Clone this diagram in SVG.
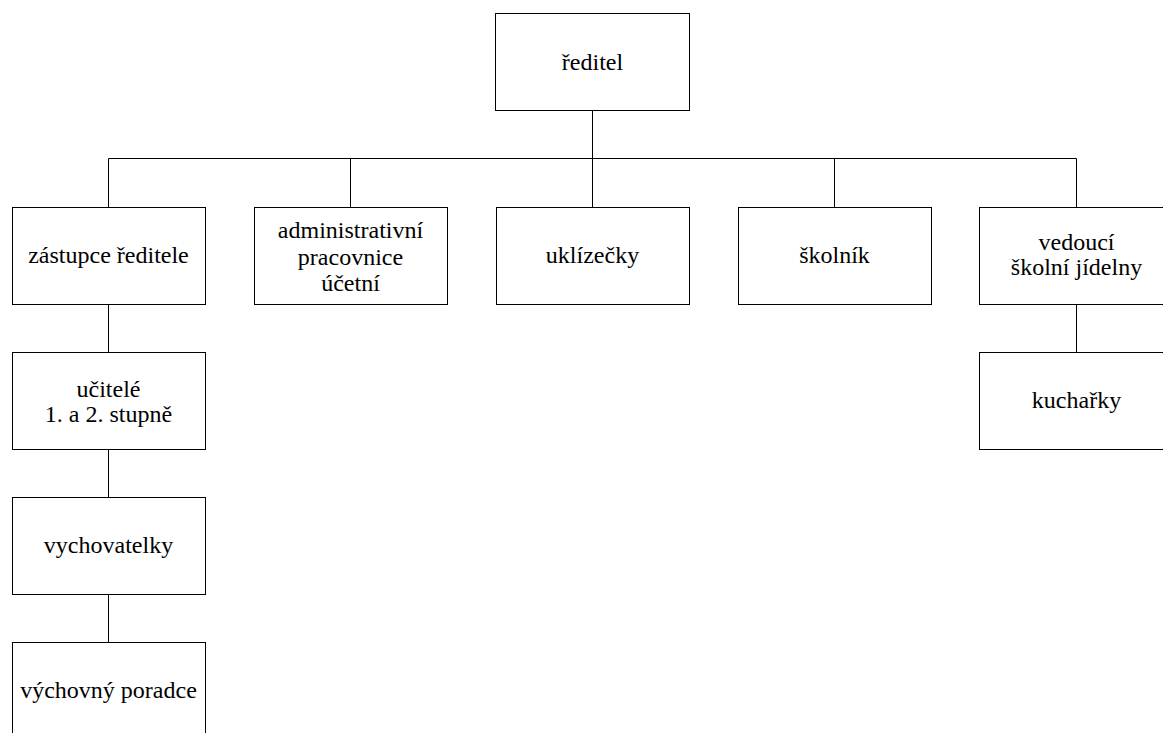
<svg xmlns="http://www.w3.org/2000/svg" width="1163" height="733" viewBox="0 0 1163 733">
<style>
.box{fill:#fff;stroke:#000;stroke-width:1}
.lbl{font-family:"Liberation Serif","Times New Roman",serif;font-size:24px;fill:#000;text-anchor:middle}
.con{stroke:#000;stroke-width:1;fill:none}
</style>
<rect width="1163" height="733" fill="#fff"/>
<g id="connectors">
<path class="con" d="M592.5 110.5V207.5M108.5 207.5V158.5H1076.5V207.5M350.5 158.5V207.5M834.5 158.5V207.5M108.5 304.5V352.5M108.5 449.5V497.5M108.5 594.5V642.5M1076.5 304.5V352.5"/>
</g>
<g id="reditel"><rect class="box" x="495.5" y="13.5" width="194" height="97"/><text class="lbl" x="592.5" y="70">ředitel</text></g>
<g id="zastupce"><rect class="box" x="12.5" y="207.5" width="193" height="97"/><text class="lbl" x="108.5" y="263">zástupce ředitele</text></g>
<g id="administrativni"><rect class="box" x="254.5" y="207.5" width="193" height="97"/><text class="lbl" x="350.5" y="238">administrativní<tspan x="350.5" dy="26.5">pracovnice</tspan><tspan x="350.5" dy="26.5">účetní</tspan></text></g>
<g id="uklizecky"><rect class="box" x="496.5" y="207.5" width="193" height="97"/><text class="lbl" x="592.5" y="263">uklízečky</text></g>
<g id="skolnik"><rect class="box" x="738.5" y="207.5" width="193" height="97"/><text class="lbl" x="834.5" y="263">školník</text></g>
<g id="vedouci"><rect class="box" x="979.5" y="207.5" width="194" height="97"/><text class="lbl" x="1076.5" y="250">vedoucí<tspan x="1076.5" dy="25">školní jídelny</tspan></text></g>
<g id="ucitele"><rect class="box" x="12.5" y="352.5" width="193" height="97"/><text class="lbl" x="108.5" y="397">učitelé<tspan x="108.5" dy="25">1. a 2. stupně</tspan></text></g>
<g id="kucharky"><rect class="box" x="979.5" y="352.5" width="194" height="97"/><text class="lbl" x="1076.5" y="408">kuchařky</text></g>
<g id="vychovatelky"><rect class="box" x="12.5" y="497.5" width="193" height="97"/><text class="lbl" x="108.5" y="553">vychovatelky</text></g>
<g id="vychovny"><rect class="box" x="12.5" y="642.5" width="193" height="97"/><text class="lbl" x="108.5" y="698">výchovný poradce</text></g>
</svg>
